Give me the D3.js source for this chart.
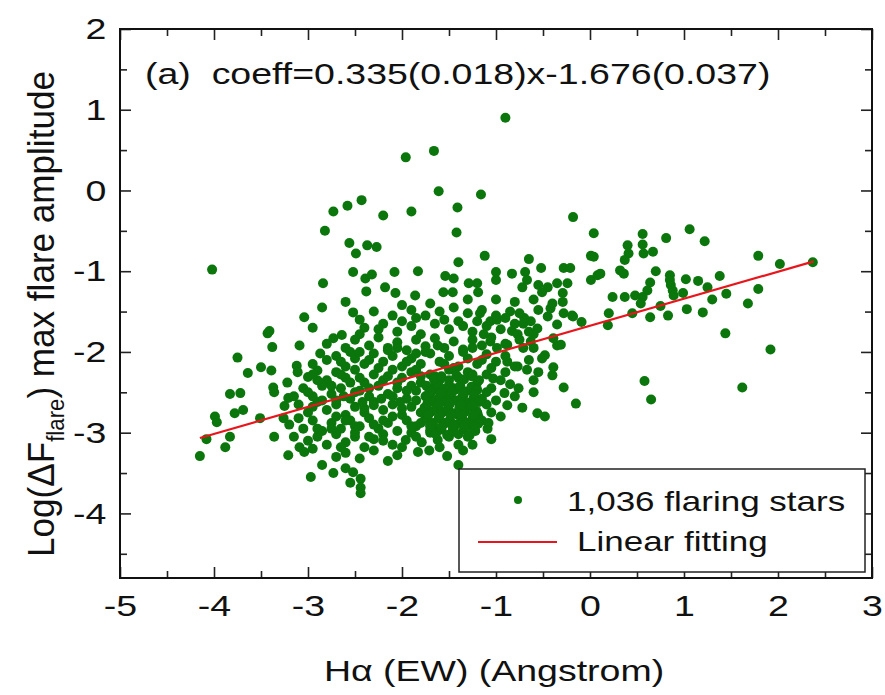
<!DOCTYPE html>
<html>
<head>
<meta charset="utf-8">
<script src="https://cdn.jsdelivr.net/npm/d3@7"></script>
<style>
  body { margin: 0; background: #fff; }
  text { font-family: "Liberation Sans", Arial, Helvetica, sans-serif; fill: #111; }
</style>
</head>
<body>
<svg id="chart" width="885" height="695"></svg>
<script>
// values: [Halpha EW, log max flare amplitude]
const upperPoints = [
  [-4.02,-0.98],[-0.90,0.90],[-1.96,0.41],[-1.66,0.49],[-1.61,-0.01],[-1.16,-0.05],[-1.90,-0.26],[-1.41,-0.21],
  [-1.42,-0.52],[-0.18,-0.33],[0.04,-0.53],[-1.12,-0.81],[-1.40,-0.89],[-2.08,-1.01],[-1.83,-1.00],[-0.65,-0.85],
  [0.01,-0.81],[0.04,-0.82],[-0.52,-0.96],[-0.28,-0.96],[-0.21,-0.96],[-1.00,-1.01],[-0.83,-1.03],[-1.00,-1.11],
  [-1.54,-1.06],[-1.45,-1.09],[-1.29,-1.15],[-1.20,-1.15],[-1.19,-1.26],[-0.69,-1.01],[-0.67,-1.11],[-0.72,-1.20],
  [-0.55,-1.17],[-0.45,-1.20],[-0.35,-1.15],[-0.24,-1.15],[-0.29,-1.27],[-0.51,-1.26],[0.01,-1.11],[0.08,-1.05],
  [-1.56,-1.26],[-1.46,-1.26],[-2.07,-1.27],[-1.86,-1.30],
  [-2.73,-0.26],[-2.58,-0.19],[-2.43,-0.12],[-2.20,-0.31],[-2.82,-0.50],[-2.56,-0.65],[-2.49,-0.78],[-2.37,-0.68],
  [-2.27,-0.70],[-2.52,-1.01],[-2.39,-1.09],[-2.32,-1.04],[-2.84,-1.15],[-2.38,-1.25],[-2.18,-1.20]
];

const rightTail = [
  [1.06,-0.48],[0.81,-0.59],[0.56,-0.54],[1.22,-0.63],[0.40,-0.68],[0.56,-0.67],[0.41,-0.78],[0.57,-0.78],
  [0.67,-0.76],[0.37,-0.86],[0.32,-0.99],[0.36,-1.03],[0.70,-1.00],[1.79,-0.81],[2.02,-0.91],[2.37,-0.89],
  [1.38,-1.06],[0.85,-1.05],[0.85,-1.11],[0.86,-1.17],[0.88,-1.24],[0.89,-1.30],[1.02,-1.10],[0.64,-1.14],
  [0.61,-1.24],[0.99,-1.27],[1.79,-1.22],[0.11,-1.03],[0.24,-1.32],[0.37,-1.32],[0.48,-1.30],[0.56,-1.32],
  [1.15,-1.12],[1.25,-1.20],[1.45,-1.28],[1.30,-1.35],
  [1.68,-1.40],[0.20,-1.52],[0.19,-1.67],[0.45,-1.52],[0.64,-1.57],[0.83,-1.55],[1.03,-1.47],[1.20,-1.51],
  [0.54,-1.40],[0.75,-1.43],[1.44,-1.77],[1.92,-1.97],[0.58,-2.36],[0.65,-2.59],[1.62,-2.44],
  [-0.28,-2.44],[-0.15,-2.64],[-0.56,-2.76],[-0.48,-2.80],[-0.72,-2.69],[-0.88,-2.66],[-0.91,-2.51],[-0.76,-2.45],
  [-0.60,-2.50],[-0.60,-2.35],[-0.40,-2.29],[-0.39,-2.19],[-0.55,-2.25],[-0.48,-2.04],[-0.65,-2.10],[-0.35,-1.92],
  [-0.09,-1.63],[-0.19,-1.55],[-0.28,-1.52],[-0.29,-1.38]
];

const leftWing = [
  [-4.15,-3.29],[-4.08,-3.08],[-3.99,-2.80],[-3.97,-2.87],[-3.88,-3.18],[-3.83,-3.05],[-3.83,-2.52],[-3.72,-2.51],
  [-3.78,-2.76],[-3.69,-2.72],[-3.75,-2.07],[-3.64,-2.26],[-3.50,-2.19],[-3.51,-2.82],[-3.43,-1.77],[-3.41,-1.74],
  [-3.38,-1.94],[-3.39,-2.23],[-3.37,-2.44],[-3.36,-2.50],[-3.36,-3.05],[-3.04,-1.57],[-3.09,-1.92],[-3.12,-2.17],
  [-3.11,-2.25],[-3.22,-2.38],[-3.21,-2.57],[-3.25,-2.67],[-3.26,-2.82],[-3.21,-3.28],[-2.97,-3.55],[-2.87,-2.02],
  [-3.00,-2.31],[-2.90,-2.23],[-3.09,-3.18],[-3.04,-3.24],[-2.85,-3.40],[-2.73,-3.50],[-2.60,-3.44],[-2.52,-3.49],
  [-2.55,-3.62],[-2.44,-3.57],[-2.44,-3.68],[-2.44,-3.75],[-2.52,-1.51],[-2.64,-1.79],[-2.73,-1.83]
];

const lowerEdge = [
  [-1.40,-3.40],[-1.52,-3.29],[-1.35,-3.22],[-1.09,-2.95],[-1.19,-2.79],[-1.03,-2.33],[-1.83,-3.24],[-1.71,-3.22],
  [-2.05,-3.28],[-1.96,-3.09],[-1.62,-3.09],[-1.79,-3.12]
];

const cloudTop = [
  [-1.17,-1.52],[-1.06,-1.62],[-0.99,-1.60],[-1.13,-1.78],[-1.06,-1.87],[-0.99,-1.95],[-0.88,-1.91],[-0.83,-1.74],
  [-0.77,-1.78],[-0.71,-1.65],[-0.63,-1.62],[-0.56,-1.71],[-0.45,-1.56],[-0.42,-1.46],[-0.35,-1.66],[-0.18,-1.56],
  [-0.71,-1.95],[-0.63,-1.87],[-0.60,-1.78],[-0.51,-2.08],[-0.39,-1.83],[-0.31,-1.91],[-0.88,-2.12],[-0.77,-2.18],
  [-0.67,-2.22],
  [-1.30,-1.35],[-1.00,-1.35],[-0.80,-1.38],[-0.60,-1.35],[-0.40,-1.40],[-2.60,-1.38],[-2.00,-1.42],[-1.70,-1.40],
  [-2.30,-1.50],[-2.10,-1.55],[-1.90,-1.48],[-1.75,-1.55],[-1.60,-1.50],[-1.45,-1.45],[-1.30,-1.52],[-1.15,-1.48],
  [-1.00,-1.55],[-0.85,-1.50],[-0.70,-1.58],[-0.55,-1.48],[-2.45,-1.60],[-2.85,-1.45],
  [-2.40,-1.70],[-2.20,-1.65],[-2.05,-1.75],[-1.90,-1.68],[-1.80,-1.78],[-1.65,-1.65],[-1.50,-1.72],[-1.40,-1.62],
  [-1.25,-1.75],[-1.10,-1.68],[-0.95,-1.72],[-0.80,-1.65],[-0.65,-1.75],[-2.95,-1.70],
  [-2.45,-1.78],[-2.25,-1.72],[-2.00,-1.62],[-1.85,-1.58],[-1.55,-1.60],[-1.35,-1.68],[-1.20,-1.62],[-0.90,-1.58],
  [-0.75,-1.52]
];

const cloudBody = [
  [-2.80,-1.90],[-2.60,-1.95],[-2.50,-1.85],[-2.35,-1.92],[-2.25,-1.82],[-2.15,-1.95],[-2.05,-1.88],[-1.95,-1.98],
  [-1.85,-1.85],[-1.75,-1.93],[-1.65,-1.83],[-1.55,-1.95],[-1.45,-1.87],[-1.35,-1.97],[-1.25,-1.85],[-1.15,-1.92],
  [-1.05,-1.82],[-0.90,-1.90],[-0.75,-1.85],[-0.60,-1.95],
  [-2.95,-2.15],[-2.80,-2.10],[-2.70,-2.05],[-2.60,-2.18],[-2.50,-2.08],[-2.40,-2.15],[-2.30,-2.02],[-2.20,-2.12],
  [-2.10,-2.05],[-2.00,-2.18],[-1.90,-2.08],[-1.80,-2.15],[-1.70,-2.02],[-1.60,-2.12],[-1.50,-2.05],[-1.40,-2.18],
  [-1.30,-2.08],[-1.20,-2.15],[-1.10,-2.03],[-1.00,-2.12],[-0.90,-2.05],[-0.80,-2.18],
  [-2.80,-2.35],[-2.70,-2.25],[-2.60,-2.32],[-2.50,-2.22],[-2.40,-2.38],[-2.30,-2.28],[-2.20,-2.35],[-2.10,-2.22],
  [-2.00,-2.32],[-1.90,-2.25],[-1.80,-2.38],[-1.70,-2.28],[-1.60,-2.35],[-1.50,-2.22],[-1.40,-2.32],[-1.30,-2.25],
  [-1.20,-2.38],[-1.10,-2.28],[-0.90,-2.25],
  [-3.05,-2.45],[-2.95,-2.55],[-2.85,-2.42],[-2.75,-2.52],[-2.65,-2.45],[-2.55,-2.58],[-2.45,-2.48],[-2.35,-2.55],
  [-2.25,-2.42],[-2.15,-2.52],[-2.05,-2.45],[-1.95,-2.58],[-1.85,-2.48],[-1.75,-2.55],[-1.65,-2.42],[-1.55,-2.52],
  [-1.45,-2.45],[-1.35,-2.55],[-1.25,-2.48],[-1.15,-2.58],[-1.05,-2.45],
  [-3.10,-2.65],[-3.00,-2.75],[-2.90,-2.62],[-2.80,-2.72],[-2.70,-2.65],[-2.60,-2.78],[-2.50,-2.68],[-2.40,-2.75],
  [-2.30,-2.62],[-2.20,-2.72],[-2.10,-2.65],[-2.00,-2.78],[-1.90,-2.68],[-1.80,-2.75],[-1.70,-2.62],[-1.60,-2.72],
  [-1.50,-2.65],[-1.40,-2.78],[-1.30,-2.68],[-1.20,-2.75],[-1.10,-2.65],
  [-3.20,-2.90],[-3.05,-2.95],[-2.95,-2.85],[-2.85,-2.98],[-2.75,-2.88],[-2.65,-2.95],[-2.55,-2.85],[-2.45,-2.92],
  [-2.35,-2.82],[-2.25,-2.95],[-2.15,-2.88],[-2.05,-2.98],[-1.95,-2.85],[-1.85,-2.92],[-1.75,-2.82],[-1.65,-2.95],
  [-1.55,-2.88],[-1.45,-2.98],[-1.35,-2.85],[-1.25,-2.92],[-1.15,-2.85],
  [-3.00,-3.10],[-2.90,-3.05],[-2.80,-3.15],[-2.70,-3.02],[-2.60,-3.12],[-2.50,-3.05],[-2.40,-3.18],[-2.30,-3.08],
  [-2.20,-3.02],[-2.10,-3.15],[-1.70,-3.00],[-1.50,-3.05],[-1.40,-3.15],[-1.30,-3.05],
  [-2.70,-3.30],[-2.60,-3.25],[-2.45,-3.32],[-2.30,-3.22],[-2.15,-3.35]
];

const cloudFill = [
  [-2.55,-2.00],[-2.35,-2.10],[-2.15,-1.98],[-1.95,-2.12],[-1.75,-2.00],[-1.55,-2.15],[-1.35,-2.00],[-1.15,-2.10],
  [-2.65,-2.28],[-2.45,-2.32],[-2.25,-2.20],[-2.05,-2.38],[-1.85,-2.22],[-1.65,-2.30],[-1.45,-2.20],[-1.25,-2.28],
  [-2.70,-2.60],[-2.50,-2.50],[-2.30,-2.66],[-2.10,-2.55],[-1.90,-2.42],[-1.70,-2.56],
  [-2.60,-2.85],[-2.40,-2.70],[-2.20,-2.85],[-2.00,-2.70],[-1.80,-2.88],
  [-2.90,-2.35],[-2.85,-2.60],[-3.00,-2.50],[-2.75,-2.95],[-2.50,-3.00],[-2.20,-3.10],[-1.90,-3.00],
  [-2.65,-2.12],[-2.45,-2.00],[-2.05,-1.95],[-1.85,-2.02],[-1.62,-1.92],[-1.25,-1.95],[-1.05,-2.20],[-0.95,-2.35],
  [-2.95,-2.28],[-2.75,-2.42],[-2.55,-2.38],[-2.35,-2.45],[-2.15,-2.30],[-1.95,-2.48],[-1.80,-2.30],
  [-3.15,-2.55],[-2.95,-2.68],[-2.62,-2.55],[-2.42,-2.62],[-2.22,-2.58],[-2.02,-2.62],[-1.85,-2.60],
  [-3.10,-2.82],[-2.90,-2.95],[-2.70,-2.80],[-2.50,-2.92],[-2.30,-2.90],[-2.10,-2.80],[-1.90,-2.92],[-1.70,-2.90],
  [-3.15,-3.05],[-2.95,-3.20],[-2.65,-3.18],[-2.35,-3.05],[-2.00,-3.18],[-1.85,-3.05],[-1.60,-3.18],[-1.25,-3.15],
  [-1.05,-3.08],[-1.10,-2.50],[-1.05,-2.75],[-1.00,-2.60],[-1.08,-2.88],[-0.95,-2.80],[-0.85,-2.40],[-0.80,-2.55]
];

const cloudCore = [
  [-1.74,-2.42],[-1.68,-2.48],[-1.62,-2.40],[-1.56,-2.46],[-1.50,-2.41],[-1.44,-2.47],[-1.38,-2.42],[-1.32,-2.49],[-1.26,-2.43],[-1.20,-2.47],
  [-1.72,-2.55],[-1.66,-2.61],[-1.60,-2.56],[-1.54,-2.62],[-1.48,-2.55],[-1.42,-2.60],[-1.36,-2.56],[-1.30,-2.63],[-1.24,-2.57],[-1.18,-2.62],
  [-1.76,-2.69],[-1.69,-2.74],[-1.63,-2.68],[-1.57,-2.75],[-1.51,-2.70],[-1.45,-2.76],[-1.39,-2.69],[-1.33,-2.74],[-1.27,-2.68],[-1.21,-2.73],
  [-1.73,-2.83],[-1.67,-2.88],[-1.61,-2.82],[-1.55,-2.89],[-1.49,-2.84],[-1.43,-2.90],[-1.37,-2.83],[-1.31,-2.88],[-1.25,-2.82],[-1.19,-2.89],
  [-1.70,-2.97],[-1.64,-3.02],[-1.58,-2.96],[-1.52,-3.03],[-1.46,-2.97],[-1.40,-3.02],[-1.34,-2.96],[-1.28,-3.03],[-1.22,-2.98],
  [-1.66,-2.34],[-1.58,-2.30],[-1.50,-2.35],[-1.42,-2.29],[-1.34,-2.34],[-1.26,-2.30],[-1.18,-2.35],
  [-1.71,-2.50],[-1.59,-2.51],[-1.47,-2.50],[-1.35,-2.51],[-1.23,-2.52],[-1.73,-2.64],[-1.61,-2.65],[-1.49,-2.64],
  [-1.37,-2.65],[-1.25,-2.66],[-1.72,-2.78],[-1.60,-2.79],[-1.48,-2.78],[-1.36,-2.79],[-1.24,-2.78],[-1.70,-2.92],
  [-1.58,-2.93],[-1.46,-2.92],[-1.34,-2.93],[-1.22,-2.92]
];

// linear fit printed on the chart
const fitSlope = 0.335, fitIntercept = -1.676;
const fitRange = [-4.15, 2.38];

const xMajor = [-5, -4, -3, -2, -1, 0, 1, 2, 3];
const yMajor = [-4, -3, -2, -1, 0, 1, 2];
const xMinor = [-4.5, -3.5, -2.5, -1.5, -0.5, 0.5, 1.5, 2.5];
const yMinor = [-4.5, -3.5, -2.5, -1.5, -0.5, 0.5, 1.5];

const points = [].concat(upperPoints, rightTail, leftWing, lowerEdge, cloudTop, cloudBody, cloudFill, cloudCore);

const SX = 1.25; // the text in the picture is a bit wider than tall
const dotColor = "#0b760b", lineColor = "#e8161c";

const svg = d3.select("#chart");
const x = d3.scaleLinear().domain([-5, 3]).range([120, 872]);
const y = d3.scaleLinear().domain([-4.8, 2]).range([578, 29]);

// points
svg.append("g").selectAll("circle")
  .data(points)
  .join("circle")
  .attr("cx", d => x(d[0]))
  .attr("cy", d => y(d[1]))
  .attr("r", 5)
  .attr("fill", dotColor);

// fit line
svg.append("line")
  .attr("x1", x(fitRange[0])).attr("y1", y(fitSlope * fitRange[0] + fitIntercept))
  .attr("x2", x(fitRange[1])).attr("y2", y(fitSlope * fitRange[1] + fitIntercept))
  .attr("stroke", lineColor).attr("stroke-width", 2.2);

// ticks on every side, pointing inward
function styleAxis(g) {
  g.select(".domain").remove();
  g.selectAll(".tick line").attr("stroke", "#222").attr("stroke-width", 1.6);
}
const noLabel = () => "";
svg.append("g").attr("transform", "translate(0,578)")
  .call(d3.axisBottom(x).tickValues(xMinor).tickSize(-7).tickFormat(noLabel)).call(styleAxis);
svg.append("g").attr("transform", "translate(0,29)")
  .call(d3.axisTop(x).tickValues(xMinor).tickSize(-7).tickFormat(noLabel)).call(styleAxis);
svg.append("g").attr("transform", "translate(0,29)")
  .call(d3.axisTop(x).tickValues(xMajor).tickSize(-11).tickFormat(noLabel)).call(styleAxis);
svg.append("g").attr("transform", "translate(120,0)")
  .call(d3.axisLeft(y).tickValues(yMinor).tickSize(-7).tickFormat(noLabel)).call(styleAxis);
svg.append("g").attr("transform", "translate(872,0)")
  .call(d3.axisRight(y).tickValues(yMinor).tickSize(-7).tickFormat(noLabel)).call(styleAxis);
svg.append("g").attr("transform", "translate(872,0)")
  .call(d3.axisRight(y).tickValues(yMajor).tickSize(-11).tickFormat(noLabel)).call(styleAxis);

const xAxis = svg.append("g").attr("transform", "translate(0,578)")
  .call(d3.axisBottom(x).tickValues(xMajor).tickSize(-11).tickPadding(17).tickFormat(d => String(d)))
  .call(styleAxis);
xAxis.selectAll(".tick text")
  .attr("font-size", 30).attr("font-family", null).attr("fill", "#111")
  .attr("transform", `scale(${SX},1)`);

const yAxis = svg.append("g").attr("transform", "translate(120,0)")
  .call(d3.axisLeft(y).tickValues(yMajor).tickSize(-11).tickPadding(11).tickFormat(d => String(d)))
  .call(styleAxis);
yAxis.selectAll(".tick text")
  .attr("font-size", 30).attr("font-family", null).attr("fill", "#111")
  .attr("transform", `scale(${SX},1)`);

// frame
svg.append("rect")
  .attr("x", 120).attr("y", 29).attr("width", 752).attr("height", 549)
  .attr("fill", "none").attr("stroke", "#111").attr("stroke-width", 2);

// equation text
svg.append("text")
  .attr("transform", `translate(145,84) scale(${SX},1)`)
  .attr("font-size", 30)
  .attr("xml:space", "preserve")
  .text("(a)  coeff=0.335(0.018)x-1.676(0.037)");

// axis titles
svg.append("text")
  .attr("transform", `translate(494,681) scale(${SX},1)`)
  .attr("text-anchor", "middle").attr("font-size", 30)
  .text("H\u03b1 (EW) (Angstrom)");

const yTitle = svg.append("text")
  .attr("transform", "translate(54,314) rotate(-90) scale(1.17,1.25)")
  .attr("text-anchor", "middle").attr("font-size", 30);
yTitle.append("tspan").text("Log(\u0394F");
yTitle.append("tspan").attr("font-size", 19).attr("dy", 8).text("flare");
yTitle.append("tspan").attr("dy", -8).text(") max flare amplitude");

// legend
const legend = svg.append("g");
legend.append("rect")
  .attr("x", 459).attr("y", 469).attr("width", 406).attr("height", 103)
  .attr("fill", "#fff").attr("stroke", "#222").attr("stroke-width", 1.5);
legend.append("circle").attr("cx", 518).attr("cy", 500).attr("r", 4).attr("fill", dotColor);
legend.append("text")
  .attr("transform", `translate(567,511) scale(${SX},1)`)
  .attr("font-size", 28).text("1,036 flaring stars");
legend.append("line")
  .attr("x1", 478).attr("x2", 557).attr("y1", 542).attr("y2", 542)
  .attr("stroke", lineColor).attr("stroke-width", 2.2);
legend.append("text")
  .attr("transform", `translate(577,551) scale(${SX},1)`)
  .attr("font-size", 28).text("Linear fitting");
</script>
</body>
</html>
